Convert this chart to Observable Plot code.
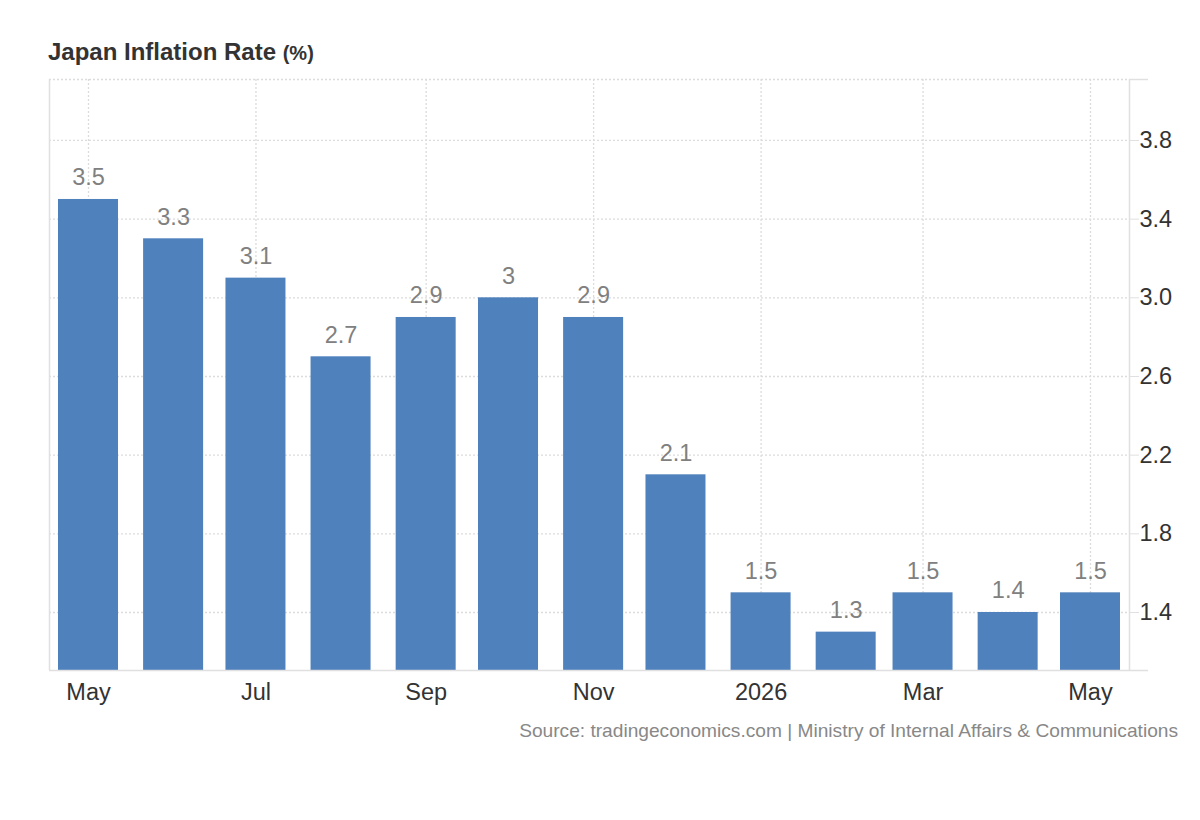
<!DOCTYPE html>
<html>
<head>
<meta charset="utf-8">
<script src="https://cdn.jsdelivr.net/npm/d3@7"></script>
<script src="https://cdn.jsdelivr.net/npm/@observablehq/plot@0.6"></script>
<style>
  html, body { margin: 0; padding: 0; background: #fff; }
  body { width: 1200px; height: 820px; position: relative; font-family: "Liberation Sans", Arial, sans-serif; }
  #title { position: absolute; left: 48px; top: 40px; font-size: 24px; line-height: 24px; font-weight: bold; color: #333; white-space: nowrap; z-index: 2; }
  #title small { font-size: 20px; font-weight: bold; }
  #chart { position: absolute; left: 0; top: 60px; z-index: 1; }
  #chart svg { display: block; }
  #source { position: absolute; right: 22px; top: 721px; font-size: 19.15px; line-height: 19px; color: #888; white-space: nowrap; }
</style>
</head>
<body>
<div id="title">Japan Inflation Rate <small>(%)</small></div>
<div id="chart"></div>
<div id="source">Source: tradingeconomics.com | Ministry of Internal Affairs &amp; Communications</div>
<script>
// ---- data ----
const months = ["2025-05-01","2025-06-01","2025-07-01","2025-08-01","2025-09-01","2025-10-01","2025-11-01","2025-12-01","2026-01-01","2026-02-01","2026-03-01","2026-04-01","2026-05-01"];
const values = [3.5, 3.3, 3.1, 2.7, 2.9, 3, 2.9, 2.1, 1.5, 1.3, 1.5, 1.4, 1.5];
const xTicks = ["2025-05-01","2025-07-01","2025-09-01","2025-11-01","2026-01-01","2026-03-01","2026-05-01"];
const xTickLabels = ["May","Jul","Sep","Nov","2026","Mar","May"];
const yTicks = [1.4, 1.8, 2.2, 2.6, 3.0, 3.4, 3.8];

// ---- layout ----
const xDomain = [new Date("2025-04-16T19:00:00Z"), new Date("2026-05-15T05:00:00Z")];
const yDomain = [1.105, 4.11];
const halfBar = 10.93 * 864e5; // half bar width in ms
const blue = "#4f81bd";
const frame = "#e0e0e0";
const grid = "#dcdcdc";
const font = "'Liberation Sans', Arial, sans-serif";

const data = months.map((m, i) => ({date: new Date(m + "T00:00:00Z"), value: values[i]}));
const tickDates = xTicks.map(t => new Date(t + "T00:00:00Z"));

const chart = Plot.plot({
  width: 1200,
  height: 655,
  marginTop: 19,
  marginBottom: 45,
  marginLeft: 49,
  marginRight: 71,
  style: {fontFamily: font, fontSize: "23.5px", background: "transparent", overflow: "visible"},
  x: {type: "utc", domain: xDomain},
  y: {domain: yDomain},
  marks: [
    Plot.gridX(tickDates, {stroke: grid, strokeOpacity: 1, strokeDasharray: "2,2", strokeWidth: 1.3}),
    Plot.gridY(yTicks, {stroke: grid, strokeOpacity: 1, strokeDasharray: "2,2", strokeWidth: 1.3}),
    Plot.ruleY([yDomain[1]], {stroke: grid, strokeDasharray: "2,2", strokeWidth: 1.3}),
    Plot.rectY(data, {
      x1: d => new Date(+d.date - halfBar),
      x2: d => new Date(+d.date + halfBar),
      y1: yDomain[0],
      y2: "value",
      fill: blue
    }),
    Plot.text(data, {
      x: "date", y: "value", text: d => String(d.value),
      lineAnchor: "bottom", dy: -14, fill: "#808080", fontSize: 23.5
    }),
    Plot.ruleX([xDomain[0]], {stroke: frame, strokeWidth: 1.5}),
    Plot.ruleX([xDomain[1]], {stroke: frame, strokeWidth: 1.5}),
    Plot.ruleY([yDomain[0]], {stroke: frame, strokeWidth: 1.5, insetRight: -19, clip: false}),
    Plot.ruleY([yDomain[1]], {x1: xDomain[1], x2: xDomain[1], stroke: frame, strokeWidth: 1.5, insetRight: -19, clip: false}),
    Plot.axisX(tickDates, {
      tickSize: 0, tickPadding: 13, label: null,
      tickFormat: (d, i) => xTickLabels[i],
      fill: "#333", fontSize: 23.5
    }),
    Plot.axisY(yTicks, {
      anchor: "right", tickSize: 9, tickPadding: 1, label: null,
      tickFormat: d3.format(".1f"),
      stroke: frame, fill: "#333", fontSize: 23.5
    })
  ]
});
document.getElementById("chart").appendChild(chart);
</script>
</body>
</html>
